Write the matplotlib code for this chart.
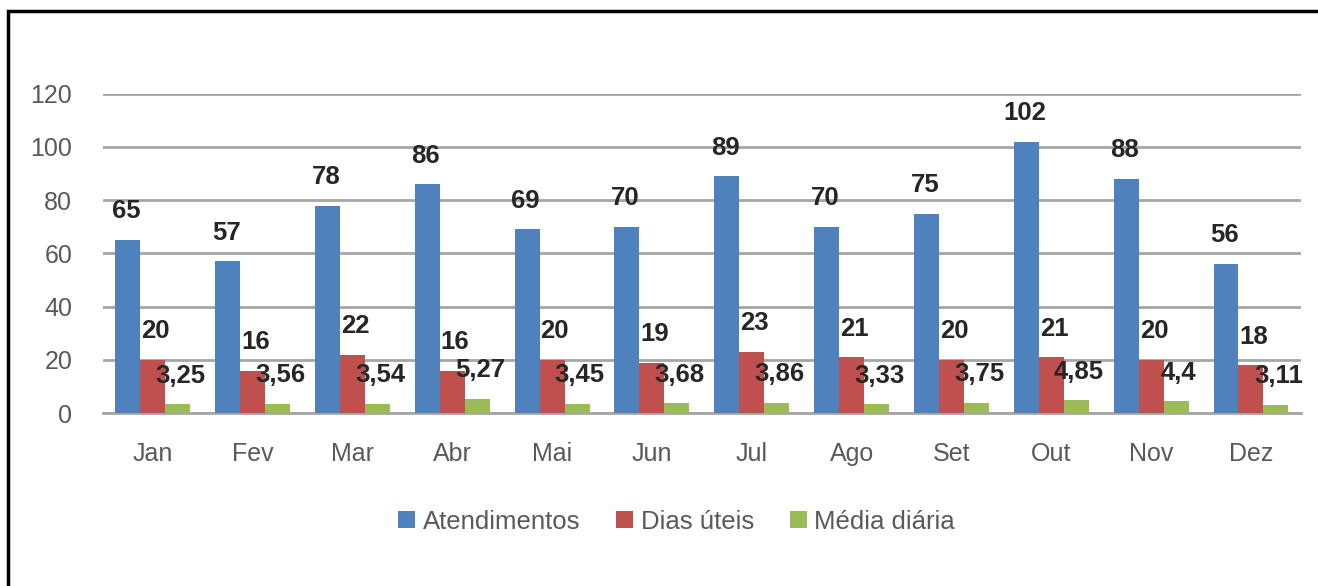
import numpy as np
import matplotlib.pyplot as plt
from matplotlib.patches import Rectangle

# Monthly service data
meses = ["Jan", "Fev", "Mar", "Abr", "Mai", "Jun", "Jul", "Ago", "Set", "Out", "Nov", "Dez"]
atendimentos = [65, 57, 78, 86, 69, 70, 89, 70, 75, 102, 88, 56]
dias_uteis = [20, 16, 22, 16, 20, 19, 23, 21, 20, 21, 20, 18]
media_diaria = [3.25, 3.56, 3.54, 5.27, 3.45, 3.68, 3.86, 3.33, 3.75, 4.85, 4.4, 3.11]

series = [
    ("Atendimentos", atendimentos, "#4F81BD"),
    ("Dias úteis", dias_uteis, "#C0504D"),
    ("Média diária", media_diaria, "#9BBB59"),
]

plt.rcParams['font.family'] = ['Liberation Sans', 'DejaVu Sans']

fig = plt.figure(figsize=(13.18, 5.86), dpi=100)
ax = fig.add_axes([0.078, 0.295, 0.909, 0.545])

x = np.arange(len(meses))
w = 0.25

def fmt(v):
    if float(v).is_integer():
        return str(int(v))
    return ("%g" % v).replace(".", ",")

for i, (name, vals, color) in enumerate(series):
    pos = x + (i - 1) * w
    bars = ax.bar(pos, vals, width=w, color=color, label=name, zorder=3)
    for b, v in zip(bars, vals):
        ax.annotate(fmt(v), (b.get_x() + b.get_width() / 2, b.get_height()),
                    xytext=(2 if i else -1, 12), textcoords="offset points",
                    ha="center", va="bottom", fontsize=18.5, fontweight="bold",
                    color="#262626", zorder=4)

ax.set_ylim(0, 120)
ax.set_xlim(-0.5, len(meses) - 0.5)
ax.set_yticks(range(0, 121, 20))
ax.set_xticks(x)
ax.set_xticklabels(meses)
ax.yaxis.grid(True, color="#a6a6a6", linewidth=2, zorder=0)
ax.set_axisbelow(True)
for s in ["top", "right", "left"]:
    ax.spines[s].set_visible(False)
ax.spines["bottom"].set_color("#a6a6a6")
ax.spines["bottom"].set_linewidth(2)
ax.tick_params(axis="both", length=0, labelsize=18, colors="#595959")
ax.tick_params(axis="x", pad=21)
ax.tick_params(axis="y", pad=22)

ax.legend(loc="upper center", bbox_to_anchor=(0.479, -0.23), ncol=3, frameon=False,
          fontsize=18.5, labelcolor="#595959", handlelength=0.65, handleheight=0.65,
          handletextpad=0.3, columnspacing=1.4)

# outer frame of the picture
fig.patches.append(Rectangle((8 / 1318, -0.05), 1.1, 1.0 - 11 / 586 + 0.05,
                             transform=fig.transFigure, fill=False,
                             edgecolor="black", linewidth=2.5))

fig.savefig("out.png", dpi=100)
